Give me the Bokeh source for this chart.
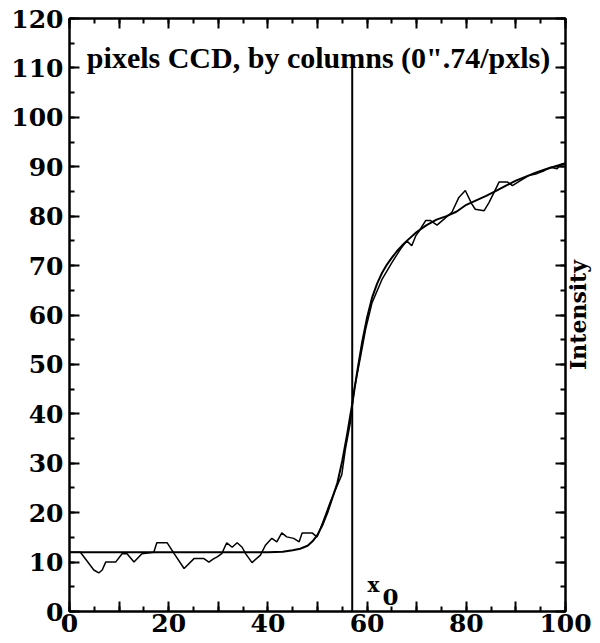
import math
from bokeh.plotting import figure
from bokeh.models import Range1d, LinearAxis, SingleIntervalTicker, Label
from bokeh.embed import file_html
from bokeh.resources import INLINE

# Observed (noisy) profile, CCD pixel vs intensity
obs_x = [0, 2.2, 4.9, 5.9, 6.6, 7.3, 9.3, 10.6, 11.6, 13, 14.6, 17, 17.6, 19.7, 21.1,
         23.1, 25.1, 27.1, 28.1, 29.1, 29.7, 30.7, 31.7, 32.8, 33.8, 34.8, 35.5, 36.8,
         38.5, 39.5, 40.8, 41.8, 42.8, 43.8, 45.2, 46.3, 46.9, 48.9, 49.9, 50.6, 51.6,
         52.6, 53.9, 54.9, 55.6, 56.6, 57.4, 58.7, 59.7, 61, 63, 65, 66.7, 68, 69,
         69.8, 70.5, 71.8, 72.8, 74.1, 75.5, 77.1, 78.5, 79.8, 81.1, 81.8, 83.6, 84.6,
         85.6, 86.6, 88.3, 89.3, 90.9, 92.6, 94.2, 95.7, 97, 98.3, 99.3, 100]
obs_y = [12, 12, 8.4, 7.8, 8.4, 10, 10, 11.7, 11.7, 10, 11.7, 12, 13.9, 13.9, 11.7,
         8.7, 10.7, 10.7, 10, 10.7, 11, 11.7, 13.9, 13, 13.9, 13, 11.7, 9.9,
         11.4, 13.4, 14.8, 14.1, 15.9, 15.1, 14.8, 14.1, 15.9, 15.9, 15.1, 16.8, 19.5,
         22.2, 25.3, 27.7, 32.7, 38.1, 44.9, 51.7, 57.1, 62.5, 67.2, 70.6, 73.3, 75, 74,
         76, 77, 79.1, 79.1, 78.2, 79.4, 80.8, 83.8, 85.2, 82.5, 81.4, 81.1, 82.8,
         84.8, 86.9, 86.9, 86.2, 87.2, 88.2, 88.6, 89.2, 89.9, 89.6, 90.6, 90.5]

# Fitted (smooth) profile
fit_x = [0, 10, 20, 30, 40, 43, 45, 46.5, 48, 49, 50, 51, 52, 53, 54, 55, 56, 57, 58,
         59, 60, 61, 62, 63, 64, 65, 66, 67, 68, 70, 72, 74, 76, 78, 80, 82, 84, 86,
         88, 90, 92, 94, 96, 98, 100]
fit_y = [12, 12, 12, 12, 12, 12.1, 12.4, 12.7, 13.3, 14.2, 15.5, 17.5, 20, 23, 26,
         30.5, 36, 42, 48.5, 54.5, 59.5, 63.5, 66.3, 68.5, 70.2, 71.6, 72.9, 74, 75,
         76.8, 78.2, 79.3, 80.0, 80.9, 82.3, 83.2, 84.1, 85.1, 86.2, 87.2, 88, 88.8,
         89.5, 90.1, 90.7]

x0 = 57
x0_top = 110

x_tick_labels = {0: "0", 20: "20", 40: "40", 60: "60", 80: "80", 100: "100",
                 10: "", 30: "", 50: "", 70: "", 90: ""}

p = figure(width=600, height=643, output_backend="svg", toolbar_location=None,
           x_range=Range1d(0, 100), y_range=Range1d(0, 120),
           x_axis_location=None, y_axis_location=None,
           min_border_left=69, min_border_right=35, min_border_top=18,
           min_border_bottom=32)
p.background_fill_color = "white"
p.border_fill_color = "white"
p.outline_line_color = "black"
p.outline_line_width = 2
p.grid.visible = False

FONT = "DejaVu Serif"

def style_axis(ax, labels=True):
    ax.ticker = SingleIntervalTicker(interval=10, num_minor_ticks=2)
    ax.axis_line_color = "black"
    ax.axis_line_width = 2
    ax.major_tick_in = 10
    ax.major_tick_out = 0
    ax.minor_tick_in = 5
    ax.minor_tick_out = 0
    ax.major_tick_line_width = 2
    ax.minor_tick_line_width = 2
    ax.major_tick_line_color = "black"
    ax.minor_tick_line_color = "black"
    if labels:
        ax.major_label_text_font = FONT
        ax.major_label_text_font_style = "bold"
        ax.major_label_text_font_size = "25px"
        ax.major_label_text_color = "black"
    else:
        ax.major_label_text_font_size = "0px"
        ax.major_label_text_color = None
        ax.major_label_standoff = 0

left = LinearAxis()
style_axis(left)
left.major_label_standoff = 6
p.add_layout(left, "left")

bottom = LinearAxis()
style_axis(bottom)
bottom.major_label_standoff = 2
bottom.major_label_overrides = x_tick_labels
p.add_layout(bottom, "below")

top = LinearAxis()
style_axis(top, labels=False)
p.add_layout(top, "above")

right = LinearAxis()
style_axis(right, labels=False)
p.add_layout(right, "right")

p.line(fit_x, fit_y, line_color="black", line_width=2)
p.line(obs_x, obs_y, line_color="black", line_width=1.5)
p.segment(x0=[x0], y0=[0], x1=[x0], y1=[x0_top], line_color="black", line_width=2)

p.add_layout(Label(x=3.5, y=112.1, text='pixels CCD, by columns (0".74/pxls)',
                   text_font="Liberation Serif", text_font_style="bold",
                   text_font_size="30px", text_align="left",
                   text_baseline="alphabetic", text_color="black"))
p.add_layout(Label(x=60.1, y=5.4, text="x", text_font=FONT, text_font_style="bold",
                   text_font_size="20px", text_align="left",
                   text_baseline="alphabetic", text_color="black"))
p.add_layout(Label(x=63.1, y=2.9, text="0", text_font=FONT, text_font_style="bold",
                   text_font_size="23px", text_align="left",
                   text_baseline="alphabetic", text_color="black"))
p.add_layout(Label(x=102.6, y=60, text="Intensity", angle=math.pi / 2,
                   text_font=FONT, text_font_style="bold", text_font_size="22px",
                   text_align="center", text_baseline="alphabetic",
                   text_color="black"), "right")

open("out.html", "w").write(file_html(p, INLINE))
